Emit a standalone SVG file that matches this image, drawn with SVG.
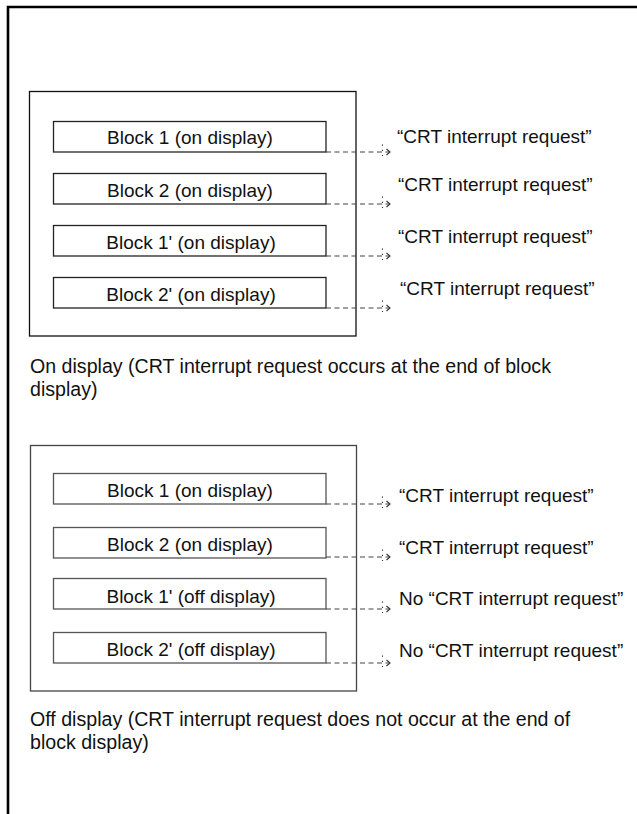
<svg xmlns="http://www.w3.org/2000/svg" width="637" height="814" viewBox="0 0 637 814">
<style>
  text { font-family: "Liberation Sans", Arial, sans-serif; font-size: 19px; fill: #111; }
  .cap { font-size: 19.6px; }
  .blk { fill: #fff; stroke: #222; stroke-width: 1.3; }
  .mid { text-anchor: middle; }
  .conn { fill: none; stroke: #444; stroke-width: 1.1; stroke-dasharray: 5 3.5; }
</style>
<defs>
  <marker id="arr" markerUnits="userSpaceOnUse" markerWidth="14" markerHeight="18" refX="10" refY="9" orient="auto" overflow="visible">
    <path d="M6.5,6 L10,9 L6.5,12" fill="none" stroke="#333" stroke-width="1.1"/>
    <path d="M2.5,1.5 L2.5,15.5" fill="none" stroke="#333" stroke-width="1.1" stroke-dasharray="1.2 4"/>
  </marker>
</defs>
<rect width="637" height="814" fill="#fff"/>
<path d="M8,814 L8,7 L637,7" fill="none" stroke="#000" stroke-width="2.6"/>

<g id="panel-on">
  <rect x="29.5" y="91.5" width="326.5" height="244.5" fill="none" stroke="#111" stroke-width="1.3"/>
  <g id="on-block1"><rect class="blk" x="53.5" y="121.5" width="272.5" height="30.5"/><text class="mid" x="190" y="144">Block 1 (on display)</text></g>
  <g id="on-block2"><rect class="blk" x="53.5" y="173.5" width="272.5" height="30.5"/><text class="mid" x="190" y="197">Block 2 (on display)</text></g>
  <g id="on-block1p"><rect class="blk" x="53.5" y="225.5" width="272.5" height="30.5"/><text class="mid" x="191" y="249">Block 1' (on display)</text></g>
  <g id="on-block2p"><rect class="blk" x="53.5" y="277.5" width="272.5" height="30.5"/><text class="mid" x="191" y="301">Block 2' (on display)</text></g>
  <text id="on-caption" class="cap" x="30" y="373">On display (CRT interrupt request occurs at the end of block<tspan x="30" y="396">display)</tspan></text>
</g>

<g id="panel-off">
  <rect x="30.5" y="445.5" width="326" height="245.5" fill="none" stroke="#444" stroke-width="1.3"/>
  <g id="off-block1"><rect class="blk" x="53.5" y="473.5" width="272.5" height="30.5" style="stroke:#555"/><text class="mid" x="190" y="497">Block 1 (on display)</text></g>
  <g id="off-block2"><rect class="blk" x="53.5" y="527.5" width="272.5" height="30.5" style="stroke:#555"/><text class="mid" x="190" y="551">Block 2 (on display)</text></g>
  <g id="off-block1p"><rect class="blk" x="53.5" y="578.5" width="272.5" height="30.5" style="stroke:#555"/><text class="mid" x="191" y="603">Block 1' (off display)</text></g>
  <g id="off-block2p"><rect class="blk" x="53.5" y="632.5" width="272.5" height="30.5" style="stroke:#555"/><text class="mid" x="191" y="656">Block 2' (off display)</text></g>
  <text id="off-caption" class="cap" x="30" y="726">Off display (CRT interrupt request does not occur at the end of<tspan x="30" y="749">block display)</tspan></text>
</g>

<g id="connectors">
  <path class="conn" d="M326,152 L390,152" marker-end="url(#arr)"/>
  <path class="conn" d="M326,204 L390,204" marker-end="url(#arr)"/>
  <path class="conn" d="M326,256 L390,256" marker-end="url(#arr)"/>
  <path class="conn" d="M326,308 L390,308" marker-end="url(#arr)"/>
  <path class="conn" d="M326,504 L390,504" marker-end="url(#arr)"/>
  <path class="conn" d="M326,557 L390,557" marker-end="url(#arr)"/>
  <path class="conn" d="M326,609 L390,609" marker-end="url(#arr)"/>
  <path class="conn" d="M326,663 L390,663" marker-end="url(#arr)"/>
</g>

<g id="labels">
  <text x="397" y="143">“CRT interrupt request”</text>
  <text x="398" y="191">“CRT interrupt request”</text>
  <text x="398" y="243">“CRT interrupt request”</text>
  <text x="400" y="295">“CRT interrupt request”</text>
  <text x="399" y="502">“CRT interrupt request”</text>
  <text x="399" y="554">“CRT interrupt request”</text>
  <text x="399" y="605">No “CRT interrupt request”</text>
  <text x="399" y="657">No “CRT interrupt request”</text>
</g>
</svg>
